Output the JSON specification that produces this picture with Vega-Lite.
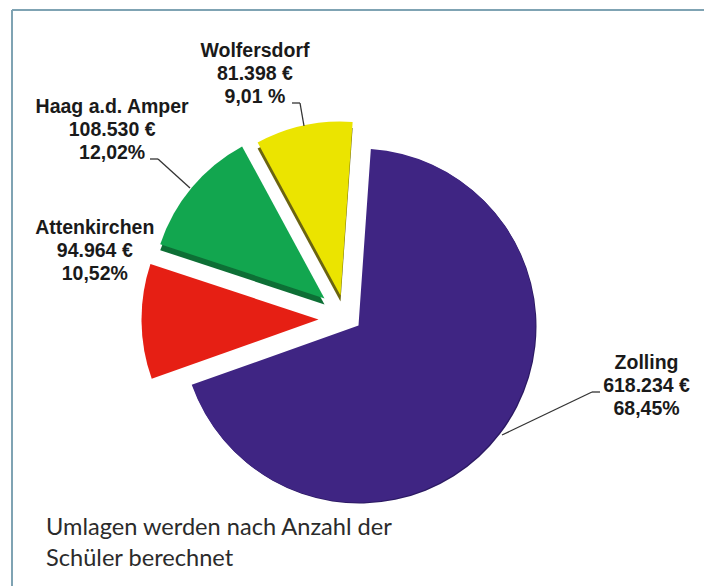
{
"$schema":"https://vega.github.io/schema/vega-lite/v6.json",
"width":704,"height":586,"autosize":{"type":"fit","contains":"padding"},"padding":0,
"background":"#ffffff","view":{"stroke":null},
"data":{"values":[
{"name":"Zolling","betrag":618234,"label":"Zolling\n618.234 €\n68,45%"},
{"name":"Attenkirchen","betrag":94964,"label":"Attenkirchen\n94.964 €\n10,52%"},
{"name":"Haag a.d. Amper","betrag":108530,"label":"Haag a.d. Amper\n108.530 €\n12,02%"},
{"name":"Wolfersdorf","betrag":81398,"label":"Wolfersdorf\n81.398  €\n9,01 %"}
]},
"transform":[{"stack":"betrag","groupby":[],"as":["s0","s1"]}],
"encoding":{},
"layer":[
{"data":{"values":[{"note":"Rahmen"}]},"transform":[],"mark":{"type":"rule","stroke":"#7fa3b3","strokeWidth":2},
 "encoding":{"x":{"datum":12,"type":"quantitative","scale":{"domain":[0,704],"range":[0,704],"nice":false,"zero":false},"axis":null},"x2":{"datum":704},"y":{"datum":10,"type":"quantitative","scale":{"domain":[0,586],"range":[0,586],"nice":false,"zero":false},"axis":null},"y2":{"datum":10}}},
{"data":{"values":[{"note":"Rahmen"}]},"transform":[],"mark":{"type":"rule","stroke":"#7fa3b3","strokeWidth":2},
 "encoding":{"x":{"datum":12,"type":"quantitative"},"x2":{"datum":12},"y":{"datum":10,"type":"quantitative"},"y2":{"datum":586}}},

{"transform":[{"filter":"datum.name==='Zolling'"}],"mark":{"type":"arc","outerRadius":177,"xOffset":8,"yOffset":34,"fill":"#2c1a63"},
 "encoding":{"theta":{"field":"s0","type":"quantitative","scale":{"domain":[0,903126],"range":[0.0698,6.3530]}},"theta2":{"field":"s1"}}},
{"transform":[{"filter":"datum.name==='Zolling'"}],"mark":{"type":"arc","outerRadius":177,"xOffset":7,"yOffset":33,"fill":"#3f2583"},
 "encoding":{"theta":{"field":"s0","type":"quantitative"},"theta2":{"field":"s1"}}},

{"transform":[{"filter":"datum.name==='Attenkirchen'"}],"mark":{"type":"arc","outerRadius":177,"xOffset":-33,"yOffset":27,"fill":"#e61f14"},
 "encoding":{"theta":{"field":"s0","type":"quantitative"},"theta2":{"field":"s1"}}},

{"transform":[{"filter":"datum.name==='Haag a.d. Amper'"}],"mark":{"type":"arc","outerRadius":173,"xOffset":-27,"yOffset":12,"fill":"#0d6f35"},
 "encoding":{"theta":{"field":"s0","type":"quantitative"},"theta2":{"field":"s1"}}},
{"transform":[{"filter":"datum.name==='Haag a.d. Amper'"}],"mark":{"type":"arc","outerRadius":173,"xOffset":-27,"yOffset":6,"fill":"#12a64f"},
 "encoding":{"theta":{"field":"s0","type":"quantitative"},"theta2":{"field":"s1"}}},

{"transform":[{"filter":"datum.name==='Wolfersdorf'"}],"mark":{"type":"arc","outerRadius":174,"xOffset":-11,"yOffset":9,"fill":"#6b6410"},
 "encoding":{"theta":{"field":"s0","type":"quantitative"},"theta2":{"field":"s1"}}},
{"transform":[{"filter":"datum.name==='Wolfersdorf'"}],"mark":{"type":"arc","outerRadius":174,"xOffset":-11,"yOffset":3,"fill":"#ebe400"},
 "encoding":{"theta":{"field":"s0","type":"quantitative"},"theta2":{"field":"s1"}}},

{"transform":[{"filter":"datum.name==='Wolfersdorf'"}],"mark":{"type":"rule","stroke":"#333333","strokeWidth":1.3},"encoding":{"x":{"datum":292,"type":"quantitative"},"x2":{"datum":300},"y":{"datum":103,"type":"quantitative"},"y2":{"datum":103}}},
{"transform":[{"filter":"datum.name==='Wolfersdorf'"}],"mark":{"type":"rule","stroke":"#333333","strokeWidth":1.3},"encoding":{"x":{"datum":300,"type":"quantitative"},"x2":{"datum":304},"y":{"datum":103,"type":"quantitative"},"y2":{"datum":126}}},
{"transform":[{"filter":"datum.name==='Haag a.d. Amper'"}],"mark":{"type":"rule","stroke":"#333333","strokeWidth":1.3},"encoding":{"x":{"datum":150,"type":"quantitative"},"x2":{"datum":158},"y":{"datum":159,"type":"quantitative"},"y2":{"datum":159}}},
{"transform":[{"filter":"datum.name==='Haag a.d. Amper'"}],"mark":{"type":"rule","stroke":"#333333","strokeWidth":1.3},"encoding":{"x":{"datum":158,"type":"quantitative"},"x2":{"datum":190},"y":{"datum":159,"type":"quantitative"},"y2":{"datum":188}}},
{"transform":[{"filter":"datum.name==='Zolling'"}],"mark":{"type":"rule","stroke":"#333333","strokeWidth":1.3},"encoding":{"x":{"datum":600,"type":"quantitative"},"x2":{"datum":592},"y":{"datum":392,"type":"quantitative"},"y2":{"datum":392}}},
{"transform":[{"filter":"datum.name==='Zolling'"}],"mark":{"type":"rule","stroke":"#333333","strokeWidth":1.3},"encoding":{"x":{"datum":592,"type":"quantitative"},"x2":{"datum":502},"y":{"datum":392,"type":"quantitative"},"y2":{"datum":435}}},

{"transform":[{"filter":"datum.name==='Wolfersdorf'"}],"mark":{"type":"text","font":"Liberation Sans","fontWeight":"bold","fontSize":19.5,"lineHeight":23,"lineBreak":"\n","align":"center","baseline":"alphabetic","color":"#1a1a1a","radius":230,"dx":13,"dy":-33},
 "encoding":{"theta":{"field":"s0","type":"quantitative"},"text":{"field":"label"}}},
{"transform":[{"filter":"datum.name==='Haag a.d. Amper'"}],"mark":{"type":"text","font":"Liberation Sans","fontWeight":"bold","fontSize":19.5,"lineHeight":23,"lineBreak":"\n","align":"center","baseline":"alphabetic","color":"#1a1a1a","radius":230,"dx":-21,"dy":-107},
 "encoding":{"theta":{"field":"s0","type":"quantitative"},"text":{"field":"label"}}},
{"transform":[{"filter":"datum.name==='Attenkirchen'"}],"mark":{"type":"text","font":"Liberation Sans","fontWeight":"bold","fontSize":19.5,"lineHeight":23,"lineBreak":"\n","align":"center","baseline":"alphabetic","color":"#1a1a1a","radius":230,"dx":-40,"dy":-136},
 "encoding":{"theta":{"field":"s0","type":"quantitative"},"text":{"field":"label"}}},
{"transform":[{"filter":"datum.name==='Zolling'"}],"mark":{"type":"text","font":"Liberation Sans","fontWeight":"bold","fontSize":19.5,"lineHeight":23,"lineBreak":"\n","align":"center","baseline":"alphabetic","color":"#1a1a1a","radius":230,"dx":279,"dy":306},
 "encoding":{"theta":{"field":"s0","type":"quantitative"},"text":{"field":"label"}}},

{"data":{"values":[{"note":"Umlagen werden nach Anzahl der\nSchüler berechnet"}]},"transform":[],"mark":{"type":"text","font":"Lato","fontSize":23.6,"lineHeight":31,"lineBreak":"\n","align":"left","baseline":"alphabetic","color":"#2b2b2b"},
 "encoding":{"x":{"datum":46,"type":"quantitative"},"y":{"datum":535,"type":"quantitative"},"text":{"field":"note"}}}
]}
